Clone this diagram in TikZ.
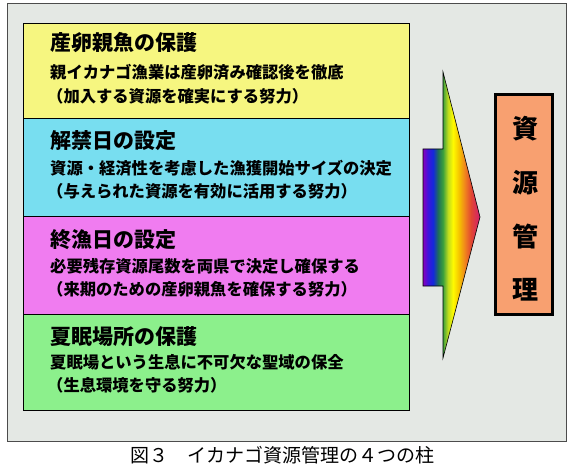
\documentclass[tikz,border=0pt]{standalone}
\usepackage{fontspec}
\setmainfont{Noto Sans CJK JP}
\definecolor{bgframe}{RGB}{228,232,228}
\definecolor{cyellow}{RGB}{246,246,128}
\definecolor{ccyan}{RGB}{120,222,240}
\definecolor{cmagenta}{RGB}{240,124,240}
\definecolor{cgreen}{RGB}{140,240,140}
\definecolor{corange}{RGB}{248,160,112}
\pgfdeclarehorizontalshading{rainbowx}{100bp}{%
  color(0bp)=(rgb,255:red,136;green,0;blue,190);
  color(25bp)=(rgb,255:red,136;green,0;blue,190);
  color(29.4bp)=(rgb,255:red,60;green,20;blue,220);
  color(33.8bp)=(rgb,255:red,20;green,40;blue,220);
  color(38.2bp)=(rgb,255:red,30;green,110;blue,90);
  color(42.5bp)=(rgb,255:red,60;green,160;blue,60);
  color(46.9bp)=(rgb,255:red,190;green,220;blue,30);
  color(51.3bp)=(rgb,255:red,255;green,250;blue,0);
  color(56.6bp)=(rgb,255:red,245;green,195;blue,0);
  color(61.8bp)=(rgb,255:red,240;green,130;blue,30);
  color(67.1bp)=(rgb,255:red,225;green,70;blue,50);
  color(75bp)=(rgb,255:red,210;green,30;blue,110);
  color(100bp)=(rgb,255:red,210;green,30;blue,110)}
\tikzset{
  pillar/.style={draw=black, line width=0.8pt},
  ttl/.style={anchor=west, inner sep=0pt, font=\fontsize{21}{23}\selectfont\bfseries},
  body/.style={anchor=west, inner sep=0pt, font=\fontsize{16.3}{18}\selectfont\bfseries},
  kanji/.style={inner sep=0pt, font=\fontsize{26}{28}\selectfont\bfseries},
}
\begin{document}
\begin{tikzpicture}[x=1pt,y=-1pt]
\useasboundingbox (0,0) rectangle (575,470);
\fill[white] (0,0) rectangle (575,470);
% outer frame
\draw[fill=bgframe, draw=black!70, line width=0.8pt] (7,3) rectangle (566,441);
% pillar boxes
\draw[pillar, fill=cyellow]  (23,23)  rectangle (409,118);
\draw[pillar, fill=ccyan]    (23,118) rectangle (409,216);
\draw[pillar, fill=cmagenta] (23,216) rectangle (409,314);
\draw[pillar, fill=cgreen]   (23,314) rectangle (409,410);
% texts box 1
\node[ttl]  (t1) at (50,43)  {産卵親魚の保護};
\node[body] (a1) at (50,72)  {親イカナゴ漁業は産卵済み確認後を徹底};
\node[body] (b1) at (47,96)  {（加入する資源を確実にする努力）};
% box 2
\node[ttl]  (t2) at (50,141) {解禁日の設定};
\node[body] (a2) at (50,168) {資源・経済性を考慮した漁獲開始サイズの決定};
\node[body] (b2) at (47,191) {（与えられた資源を有効に活用する努力）};
% box 3
\node[ttl]  (t3) at (50,240) {終漁日の設定};
\node[body] (a3) at (50,266) {必要残存資源尾数を両県で決定し確保する};
\node[body] (b3) at (47,289) {（来期のための産卵親魚を確保する努力）};
% box 4
\node[ttl]  (t4) at (50,337) {夏眠場所の保護};
\node[body] (a4) at (50,362) {夏眠場という生息に不可欠な聖域の保全};
\node[body] (b4) at (47,385) {（生息環境を守る努力）};
% arrow
\draw[shading=rainbowx, draw=black, line width=0.6pt]
  (443,72) -- (480,217) -- (443,358) -- (443,286) -- (423,286)
  -- (423,149) -- (443,149) -- cycle;
% resource management box
\draw[fill=corange, draw=black, line width=3pt] (495,95) rectangle (552,314);
\node[kanji] (k1) at (525,129) {資};
\node[kanji] (k2) at (525,183) {源};
\node[kanji] (k3) at (525,237) {管};
\node[kanji] (k4) at (525,290) {理};
% caption
\node[font=\fontsize{19}{21}\selectfont, inner sep=0pt, anchor=west] (cap) at (130,455) {図３　イカナゴ資源管理の４つの柱};
\end{tikzpicture}
\end{document}
